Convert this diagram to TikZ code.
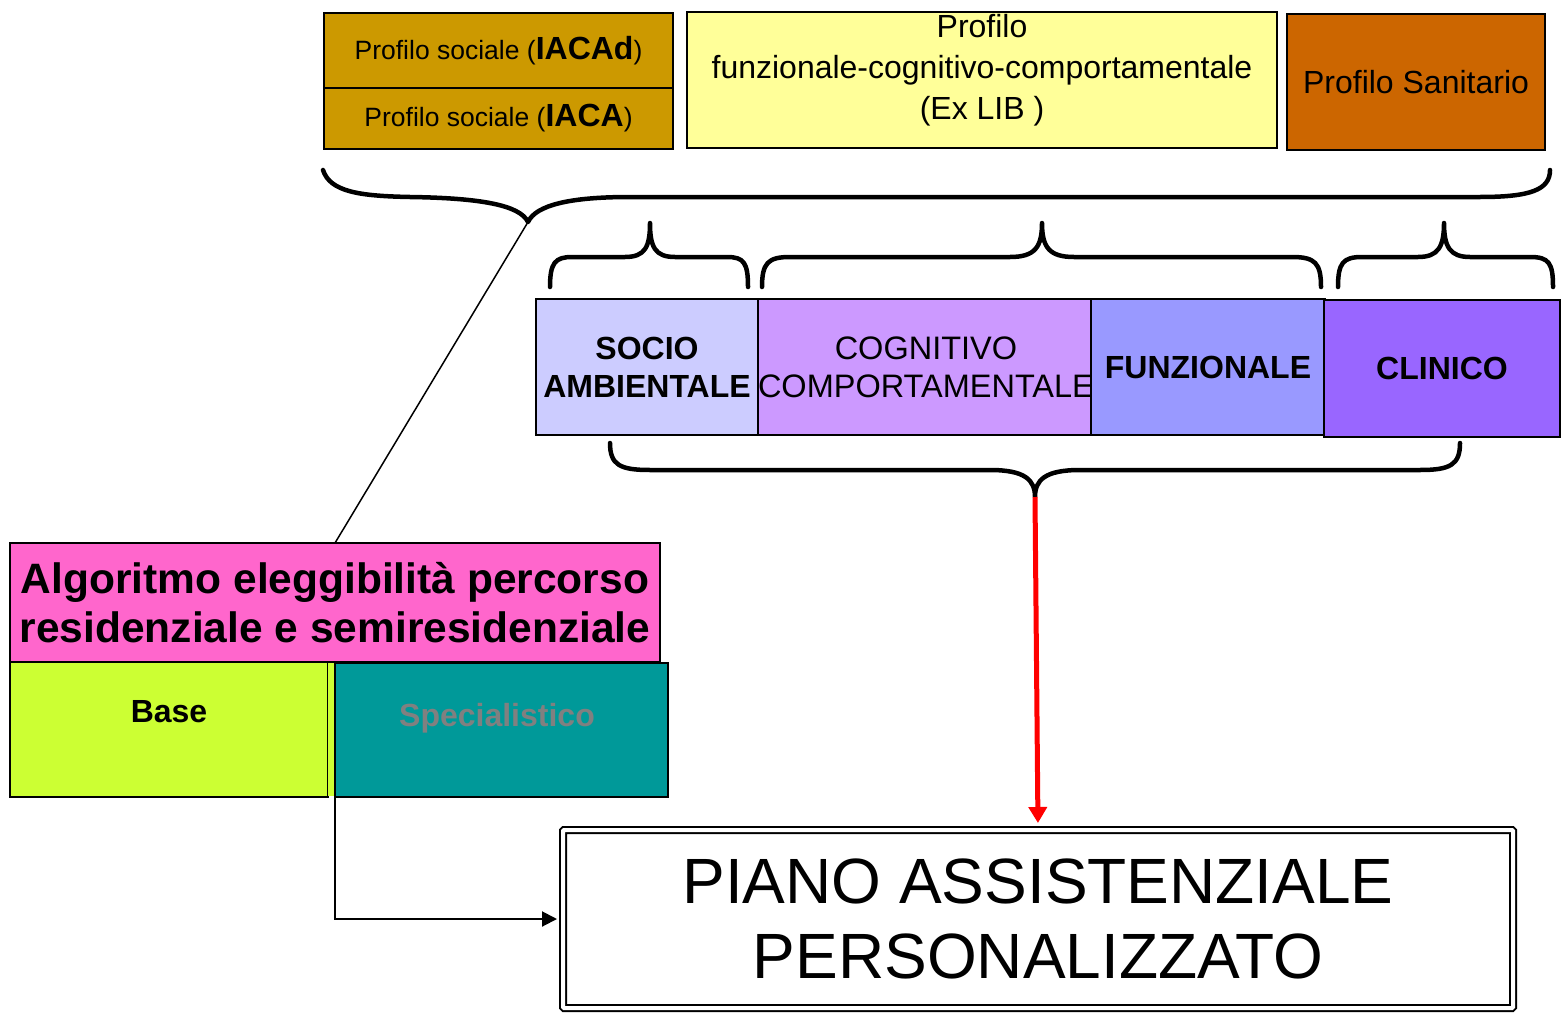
\documentclass[tikz,border=0pt]{standalone}
\usepackage{fontspec}
\setmainfont{Liberation Sans}
\usetikzlibrary{arrows.meta}

\definecolor{ochre}{HTML}{CC9900}
\definecolor{paleyellow}{HTML}{FFFF99}
\definecolor{rust}{HTML}{CC6600}
\definecolor{lilac}{HTML}{CCCCFF}
\definecolor{mauve}{HTML}{CC99FF}
\definecolor{periwinkle}{HTML}{9999FF}
\definecolor{violet}{HTML}{9966FF}
\definecolor{pinkbox}{HTML}{FF66CC}
\definecolor{lime}{HTML}{CCFF33}
\definecolor{teal}{HTML}{009999}

\begin{document}
\begin{tikzpicture}[x=1pt,y=-1pt,
  box/.style={draw,line width=1.5pt,inner sep=0pt,outer sep=0pt,anchor=north west,align=center},
  brace/.style={line width=4.5pt,line cap=round,line join=round}]
\useasboundingbox (0,0) rectangle (1562,1014);

% profiles on top
\node[box,fill=ochre,minimum width=349pt,minimum height=75pt] (iacad) at (324,13)
  {\fontsize{26.5}{30}\selectfont\raisebox{-3pt}{Profilo sociale ({\bfseries\fontsize{32}{30}\selectfont IACAd})}};
\node[box,fill=ochre,minimum width=349pt,minimum height=61pt] (iaca) at (iacad.south west)
  {\fontsize{26.5}{30}\selectfont\raisebox{-3pt}{Profilo sociale ({\bfseries\fontsize{32}{30}\selectfont IACA})}};
\node[box,fill=paleyellow,minimum width=590pt,minimum height=136pt] (fnbox) at (687,12) {};
\node[align=center,font=\fontsize{32}{41}\selectfont] (fntext) at (982,70)
  {Profilo\\funzionale-cognitivo-comportamentale\\(Ex LIB )};
\node[box,fill=rust,minimum width=258pt,minimum height=136pt,font=\fontsize{32}{36}\selectfont] (sanit) at (1287,14) {Profilo Sanitario};

% big brace
\draw[brace] (323,170) .. controls (330,192) and (360,196) .. (410,197)
  .. controls (480,198) and (520,205) .. (528,222) coordinate (bigtip)
  .. controls (536,205) and (570,197) .. (630,197) -- (1480,197)
  .. controls (1530,197) and (1550,190) .. (1550,170);

% small braces
\draw[brace] (550,287) .. controls (550,263) and (555,257) .. (572,257) -- (625,257)
  .. controls (645,257) and (650,247) .. (650,223)
  .. controls (650,247) and (655,257) .. (675,257) -- (727,257)
  .. controls (744,257) and (748,263) .. (748,287);
\draw[brace] (762,287) .. controls (762,263) and (768,257) .. (790,257) -- (1010,257)
  .. controls (1035,257) and (1042,247) .. (1042,223)
  .. controls (1042,247) and (1049,257) .. (1074,257) -- (1292,257)
  .. controls (1315,257) and (1321,263) .. (1321,287);
\draw[brace] (1338,287) .. controls (1338,263) and (1343,257) .. (1362,257) -- (1418,257)
  .. controls (1438,257) and (1444,247) .. (1444,223)
  .. controls (1444,247) and (1450,257) .. (1470,257) -- (1530,257)
  .. controls (1549,257) and (1553,263) .. (1553,287);

% areas
\node[box,fill=lilac,minimum width=222pt,minimum height=136pt,font=\bfseries\fontsize{32}{38}\selectfont] (socio) at (536,299) {SOCIO\\AMBIENTALE};
\node[box,fill=mauve,minimum width=333pt,minimum height=136pt,font=\fontsize{32.5}{38}\selectfont] (cogn) at (758,299) {COGNITIVO\\COMPORTAMENTALE};
\node[box,fill=periwinkle,minimum width=234pt,minimum height=136pt,font=\bfseries\fontsize{32}{38}\selectfont] (funz) at (1091,299) {FUNZIONALE};
\node[box,fill=violet,minimum width=236pt,minimum height=137pt,font=\bfseries\fontsize{32}{38}\selectfont] (clin) at (1324,300) {CLINICO};

% bottom brace
\draw[brace] (610,443) .. controls (610,465) and (620,470) .. (650,470) -- (990,470)
  .. controls (1025,470) and (1035,480) .. (1035,497) coordinate (bottip)
  .. controls (1035,480) and (1045,470) .. (1080,470) -- (1420,470)
  .. controls (1450,470) and (1460,465) .. (1460,443);

% algorithm
\node[box,fill=pinkbox,minimum width=650pt,minimum height=119pt,font=\bfseries\fontsize{42.5}{49}\selectfont] (algo) at (10,543)
  {Algoritmo eleggibilità percorso\\residenziale e semiresidenziale};
\node[box,fill=lime,minimum width=318pt,minimum height=135pt] (base) at (10,662) {};
\node[box,fill=teal,minimum width=333pt,minimum height=134pt] (spec) at (335,663) {};
\fill[lime] ([yshift=-0.75pt]base.north east) rectangle ([xshift=-0.75pt,yshift=0.75pt]spec.south west);
\node[font=\bfseries\fontsize{32}{36}\selectfont] (basetext) at (169,712) {Base};
\node[font=\bfseries\fontsize{32}{36}\selectfont,text=gray] (spectext) at (497,718) {Specialistico};

% plan
\node[draw,line width=2pt,double=white,double distance=4pt,rounded corners=1pt,inner sep=0pt,
  minimum width=950pt,minimum height=178pt,align=center,font=\fontsize{64}{75}\selectfont] (piano) at (1038,919)
  {PIANO ASSISTENZIALE\\PERSONALIZZATO};

% connectors
\draw[line width=1.5pt] (bigtip) -- (algo.north);
\draw[red,line width=5pt,shorten >=6pt,-{Triangle[width=18pt,length=16pt]}] (bottip) -- (piano.north);
\draw[line width=2pt,shorten >=5pt,-{Triangle[width=15pt,length=15pt]}] (spec.south west) |- (piano.west);
\end{tikzpicture}
\end{document}
